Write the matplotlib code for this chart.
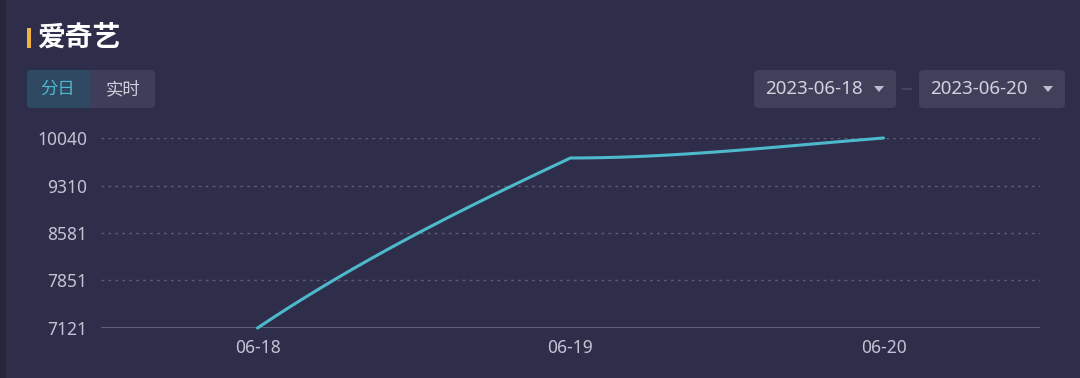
import numpy as np
import matplotlib
matplotlib.use("Agg")
import matplotlib.pyplot as plt
from matplotlib.patches import FancyBboxPatch, Rectangle, Polygon

plt.rcParams['font.family'] = ['Noto Sans CJK SC', 'DejaVu Sans']

# data
title = "爱奇艺"
categories = ["06-18", "06-19", "06-20"]
values = [7121, 9733, 10040]
y_ticks = [7121, 7851, 8581, 9310, 10040]
tabs = ["分日", "实时"]
date_from = "2023-06-18"
date_to = "2023-06-20"

BG = "#2f2e4a"
LINE = "#4db9cc"
TXT = "#c3c3d3"

fig = plt.figure(figsize=(10.8, 3.78), dpi=100)
fig.patch.set_facecolor(BG)
W, H = 1080, 378


def fx(px):
    return px / W


def fy(py):
    return 1 - py / H


# darker left strip
fig.patches.append(Rectangle((0, 0), fx(6), 1, transform=fig.transFigure,
                             facecolor="#262539", edgecolor="none"))

# title with accent bar
fig.patches.append(Rectangle((fx(27), fy(48)), fx(4), 20 / H, transform=fig.transFigure,
                             facecolor="#f0b244", edgecolor="none"))
fig.text(fx(37), fy(38), title, color="white", fontsize=20, fontweight="bold",
         va="center", ha="left")

# tabs
fig.patches.append(FancyBboxPatch((fx(27), fy(108)), fx(128), 38 / H,
                                  boxstyle="round,pad=0,rounding_size=0.004",
                                  transform=fig.transFigure, facecolor="#3f3e5a",
                                  edgecolor="none", mutation_aspect=W / H))
fig.patches.append(FancyBboxPatch((fx(27), fy(108)), fx(63), 38 / H,
                                  boxstyle="round,pad=0,rounding_size=0.004",
                                  transform=fig.transFigure, facecolor="#2f4962",
                                  edgecolor="none", mutation_aspect=W / H))
fig.patches.append(Rectangle((fx(80), fy(108)), fx(10), 38 / H, transform=fig.transFigure,
                             facecolor="#2f4962", edgecolor="none"))
fig.text(fx(58), fy(89), tabs[0], color="#4fb9d2", fontsize=12.5, va="center", ha="center")
fig.text(fx(123), fy(89), tabs[1], color="#cfcfdc", fontsize=12.5, va="center", ha="center")

# date pickers
for x0, w, label in [(754, 142, date_from), (919, 146, date_to)]:
    fig.patches.append(FancyBboxPatch((fx(x0), fy(108)), fx(w), 38 / H,
                                      boxstyle="round,pad=0,rounding_size=0.004",
                                      transform=fig.transFigure, facecolor="#41405a",
                                      edgecolor="none", mutation_aspect=W / H))
    fig.text(fx(x0 + 11), fy(89), label, color="#d2d2de", fontsize=13.5,
             va="center", ha="left", family="Noto Sans")
    tx = x0 + w - 17
    fig.patches.append(Polygon([(fx(tx - 5), fy(86)), (fx(tx + 5), fy(86)), (fx(tx), fy(92))],
                               closed=True, transform=fig.transFigure,
                               facecolor="#bdbdcc", edgecolor="none"))
fig.patches.append(Rectangle((fx(902), fy(90)), fx(10), 2 / H, transform=fig.transFigure,
                             facecolor="#45445e", edgecolor="none"))

# plot area
ax = fig.add_axes([fx(101), fy(328), fx(939), 190 / H])
ax.set_facecolor(BG)
ax.set_xlim(-0.5, len(categories) - 0.5)
ax.set_ylim(y_ticks[0], y_ticks[-1])

for t in y_ticks[1:]:
    ax.axhline(t, color="#5c5b78", lw=1, ls=(0, (2, 3)), zorder=1)
ax.axhline(y_ticks[0], color="#6b6a86", lw=1.2, zorder=2)

# smooth curve: two cubic hermite segments
x = np.arange(len(values))
d = np.diff(values)
tangents_out = [d[0] * 1.23, 0.0]
tangents_in = [d[0] * 0.865, d[1] * 1.25]
xs, ys = [], []
for i in range(len(values) - 1):
    t = np.linspace(0, 1, 60)
    h00 = 2 * t**3 - 3 * t**2 + 1
    h10 = t**3 - 2 * t**2 + t
    h01 = -2 * t**3 + 3 * t**2
    h11 = t**3 - t**2
    seg = h00 * values[i] + h10 * tangents_out[i] + h01 * values[i + 1] + h11 * tangents_in[i]
    xs.extend(x[i] + t)
    ys.extend(seg)
ax.plot(xs, ys, color=LINE, lw=2.2, solid_capstyle="round", zorder=3, clip_on=False)

ax.set_yticks(y_ticks)
ax.set_yticklabels([str(v) for v in y_ticks])
ax.set_xticks(x)
ax.set_xticklabels(categories)
ax.tick_params(axis="both", length=0, colors=TXT, labelsize=12.5)
ax.tick_params(axis="y", pad=10)
ax.tick_params(axis="x", pad=8)
for lab in ax.get_xticklabels() + ax.get_yticklabels():
    lab.set_family("Noto Sans")
for s in ax.spines.values():
    s.set_visible(False)

fig.savefig("out.png", dpi=100, facecolor=BG)
